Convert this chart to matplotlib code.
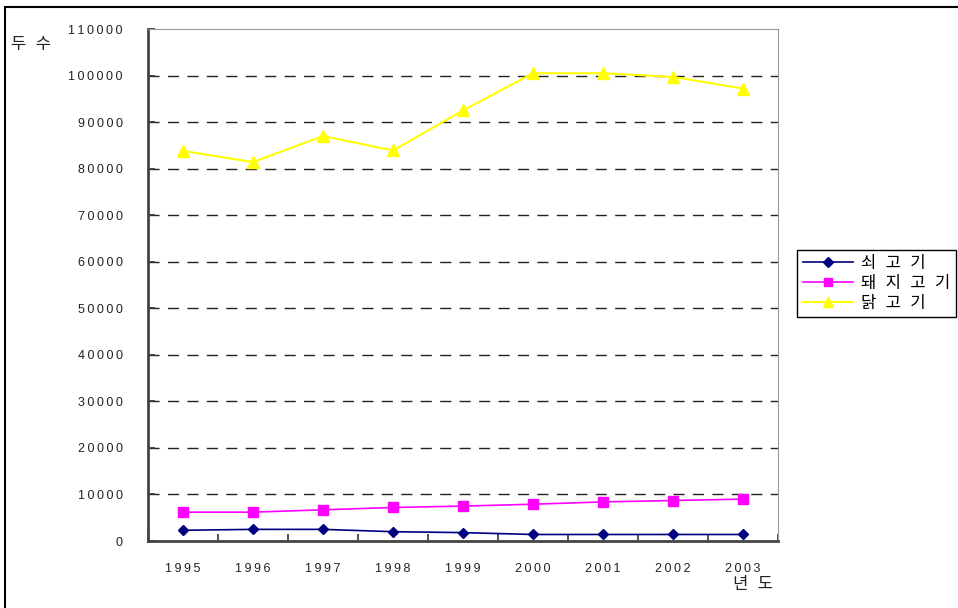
import matplotlib.pyplot as plt
from matplotlib.patches import Rectangle
from matplotlib.ticker import FixedLocator

plt.rcParams['font.family'] = ['Liberation Sans', 'DejaVu Sans', 'Noto Sans CJK KR']

years = ['1995', '1996', '1997', '1998', '1999', '2000', '2001', '2002', '2003']
beef = [2300, 2500, 2500, 2000, 1800, 1400, 1400, 1400, 1400]
pork = [6200, 6200, 6700, 7200, 7500, 7900, 8400, 8700, 9000]
chicken = [83800, 81400, 87000, 83900, 92500, 100500, 100500, 99700, 97200]
yticks = list(range(0, 110001, 10000))

spaced = lambda s: '\u2009'.join(s)

fig = plt.figure(figsize=(9.58, 6.08), dpi=100)
ax = fig.add_axes([148 / 958, 1 - 541 / 608, 630 / 958, 512 / 608])

x = range(len(years))
l1, = ax.plot(x, beef, color='#000080', lw=1.2, marker='D', ms=5.5, label='쇠  고  기')
l2, = ax.plot(x, pork, color='#FF00FF', lw=1.2, marker='s', ms=6.5, label='돼  지  고  기')
l3, = ax.plot(x, chicken, color='#FFFF00', lw=1.5, marker='^', ms=8, label='닭  고  기')

ax.set_xlim(-0.5, len(years) - 0.5)
ax.set_ylim(0, 110000)
ax.set_yticks(yticks)
ax.set_yticklabels([spaced(str(v)) for v in yticks], fontsize=9, color='#222222')
ax.set_xticks(list(x))
ax.set_xticklabels([spaced(y) for y in years], fontsize=9, color='#222222')
ax.xaxis.set_minor_locator(FixedLocator([i - 0.5 for i in range(len(years) + 1)]))
ax.tick_params(axis='x', which='major', length=0, pad=16)
ax.tick_params(axis='x', which='minor', direction='in', length=5, width=1.2, color='#333333')
ax.tick_params(axis='y', direction='in', length=5, width=1.2, color='#333333', pad=18)

for v in yticks[1:-1]:
    ax.axhline(v, color='#222222', lw=1, ls=(0, (8, 6)), zorder=0)

ax.spines['left'].set_color('#444444')
ax.spines['left'].set_linewidth(2)
ax.spines['bottom'].set_color('#444444')
ax.spines['bottom'].set_linewidth(2)
ax.spines['top'].set_color('#999999')
ax.spines['right'].set_color('#999999')

fig.text(11 / 958, 1 - 45 / 608, '두  수', fontsize=12, va='center', ha='left', color='#222222')
fig.text(773 / 958, 1 - 585 / 608, '년  도', fontsize=12, va='center', ha='right', color='#222222')

leg = fig.legend(handles=[l1, l2, l3], loc='upper left',
                 bbox_to_anchor=(797 / 958, 1 - 250 / 608), fontsize=12,
                 frameon=True, fancybox=False, edgecolor='black', framealpha=1,
                 handlelength=3.0, handletextpad=0.5, borderpad=0.35,
                 labelspacing=0.3, borderaxespad=0, markerscale=0.85)
leg.get_frame().set_linewidth(1)

# outer frame running off the right and bottom edges
fig.patches.append(Rectangle((5 / 958, -0.1), 1.2, 1 - 7 / 608 + 0.1,
                             transform=fig.transFigure, fill=False,
                             edgecolor='black', lw=1.5))

fig.savefig('out.png', dpi=100)
